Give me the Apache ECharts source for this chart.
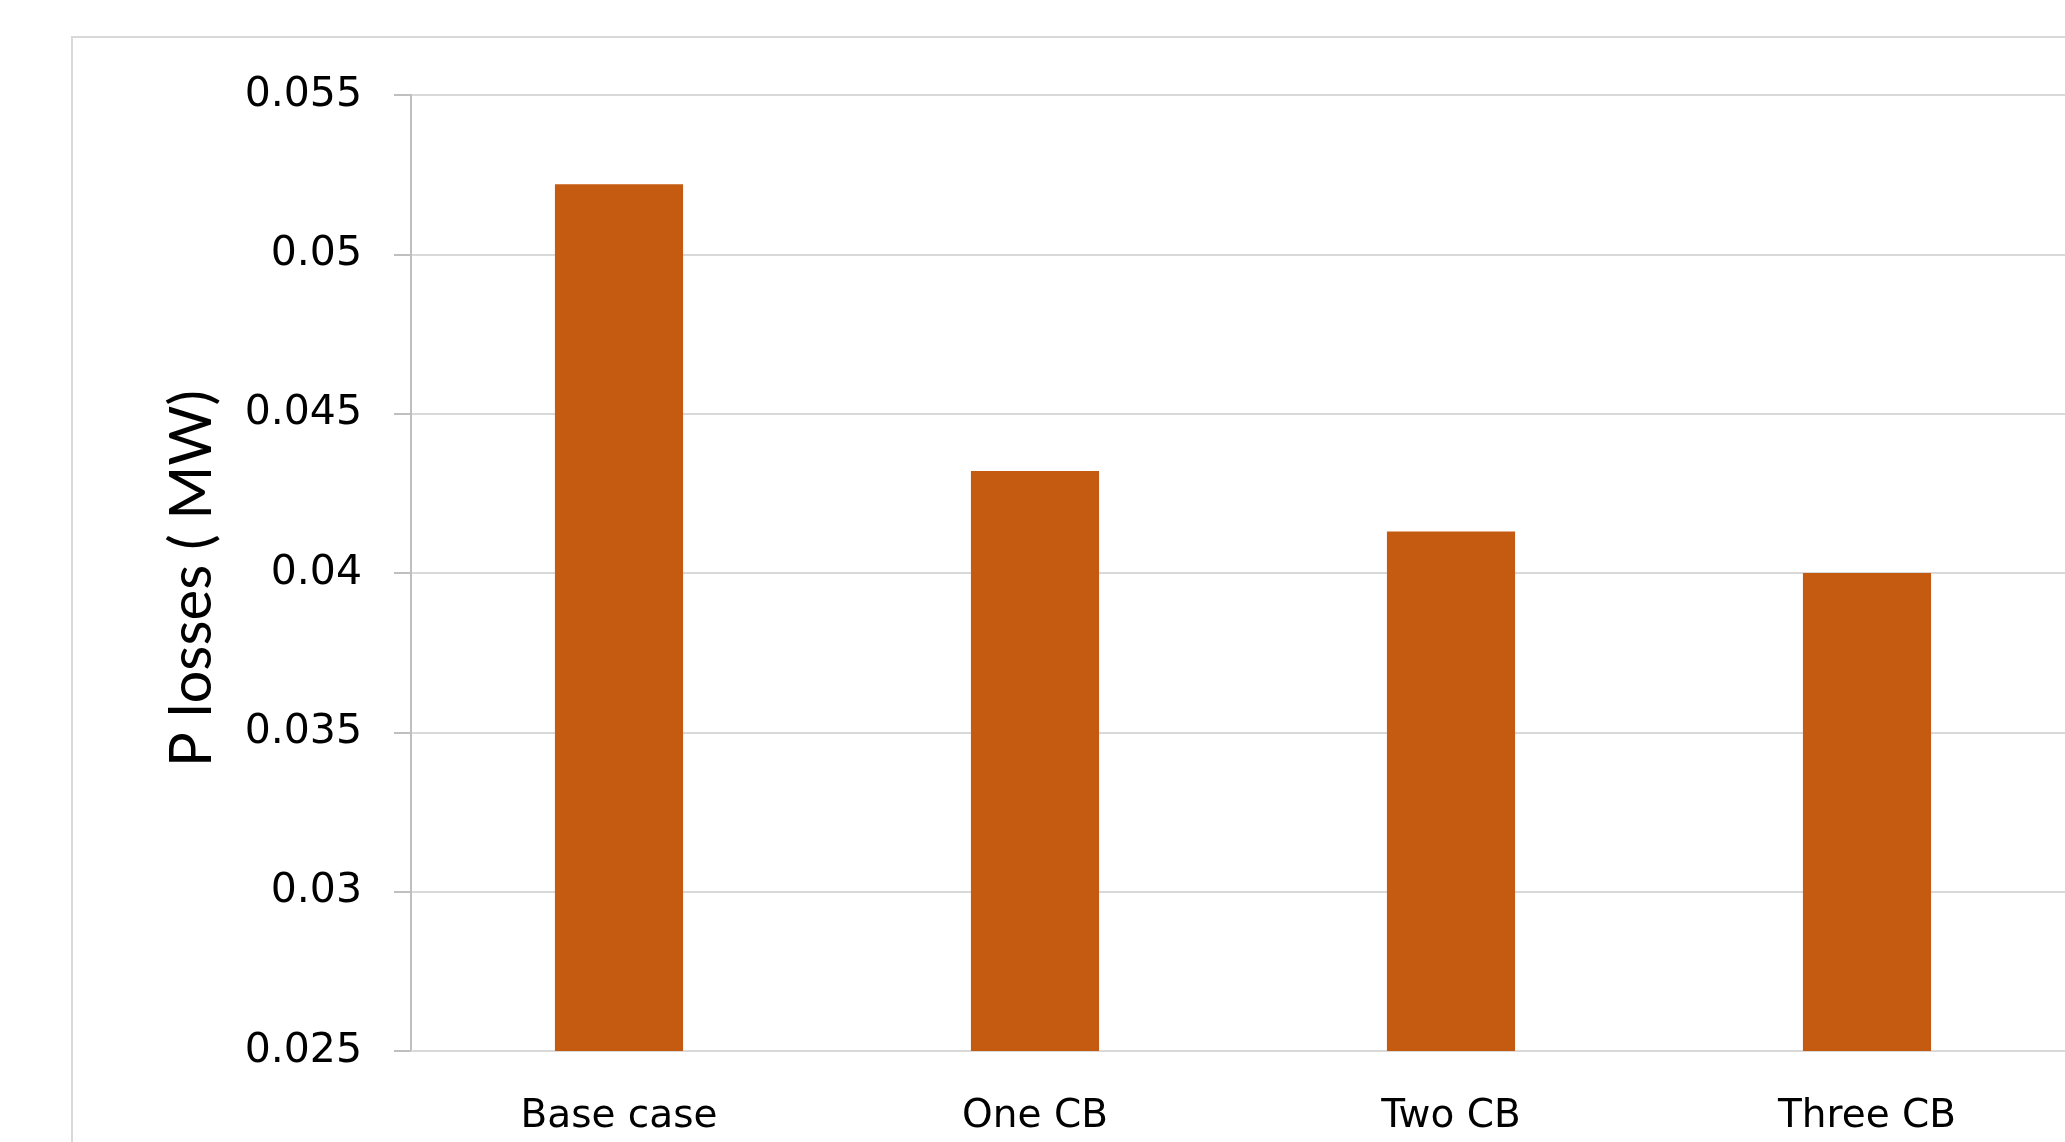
<!DOCTYPE html>
<html>
<head>
<meta charset="utf-8">
<title>P losses</title>
<script src="https://cdn.jsdelivr.net/npm/echarts@6/dist/echarts.min.js"></script>
<style>
  html, body { margin: 0; padding: 0; background: #ffffff; overflow: hidden; }
  /* the plot runs a little past the right edge of the page */
  #chart { width: 2075px; height: 1142px; }
</style>
</head>
<body>
<div id="chart"></div>
<script>
// Active power losses for each capacitor-bank configuration
const categories = ['Base case', 'One CB', 'Two CB', 'Three CB'];
const lossesMW = [0.0522, 0.0432, 0.0413, 0.0400];
const yTicks = [0.025, 0.03, 0.035, 0.04, 0.045, 0.05, 0.055];

const chart = echarts.init(document.getElementById('chart'));

const option = {
  backgroundColor: '#ffffff',
  animation: false,
  graphic: [{
    type: 'rect',
    silent: true,
    shape: { x: 72, y: 37, width: 2100, height: 1200 },
    style: { fill: 'none', stroke: '#d9d9d9', lineWidth: 2 }
  }],
  grid: { left: 411, top: 95, right: 0, bottom: 91 },
  xAxis: {
    type: 'category',
    data: categories,
    axisLine: { show: true, lineStyle: { color: '#d9d9d9', width: 2 } },
    axisTick: { show: false },
    axisLabel: {
      margin: 46,
      color: '#000000',
      fontFamily: 'DejaVu Sans',
      fontSize: 39
    }
  },
  yAxis: {
    type: 'value',
    min: yTicks[0],
    max: yTicks[yTicks.length - 1],
    interval: 0.005,
    name: 'P losses ( MW)',
    nameLocation: 'middle',
    nameGap: 190,
    nameTextStyle: {
      color: '#000000',
      fontFamily: 'Lato',
      fontSize: 58,
      padding: [0, 11, 0, 0]
    },
    axisLine: { show: true, lineStyle: { color: '#bfbfbf', width: 2 } },
    axisTick: { show: true, length: 17, lineStyle: { color: '#bfbfbf', width: 2 } },
    splitLine: { show: true, lineStyle: { color: '#d9d9d9', width: 2 } },
    axisLabel: {
      margin: 49,
      color: '#000000',
      fontFamily: 'DejaVu Sans',
      fontSize: 41,
      formatter: v => String(+v.toFixed(4))
    }
  },
  series: [{
    type: 'bar',
    data: lossesMW,
    barWidth: '30.8%',
    itemStyle: { color: '#c55a11' }
  }]
};

chart.setOption(option);
</script>
</body>
</html>
